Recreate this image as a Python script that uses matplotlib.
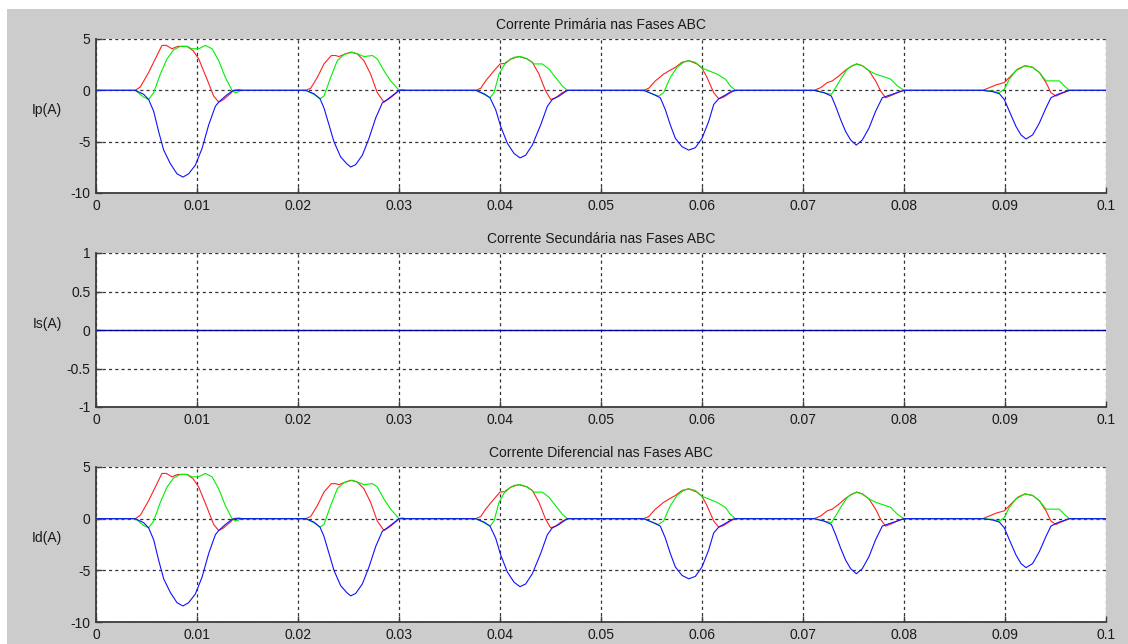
#!/usr/bin/env python3

# Correntes primaria, secundaria e diferencial nas fases ABC.

import matplotlib
matplotlib.use("Agg")
from matplotlib import pyplot as plt
from matplotlib.patches import Rectangle
from matplotlib.ticker import FuncFormatter
import numpy as np

# primary current, phase A (red), one row per pulse
t_a = [0.0,
       0.00389, 0.00439, 0.00521, 0.00587, 0.00653, 0.00696, 0.00752, 0.00809, 0.00901, 0.0096, 0.01017, 0.01099, 0.01165, 0.01215, 0.01264, 0.0133, 0.01363, 0.01413, 0.0145,
       0.02076, 0.02125, 0.02191, 0.02257, 0.0233, 0.02373, 0.02406, 0.02455, 0.02521, 0.02587, 0.02653, 0.02719, 0.02785, 0.02851, 0.02917, 0.02977, 0.03, 0.03033, 0.03066,
       0.03759, 0.03809, 0.03858, 0.03941, 0.04, 0.04056, 0.04106, 0.04188, 0.0427, 0.0432, 0.04386, 0.04452, 0.04502, 0.04551, 0.04617, 0.04667,
       0.05422, 0.05472, 0.05538, 0.0562, 0.05686, 0.05736, 0.05802, 0.05868, 0.0595, 0.06, 0.0605, 0.06116, 0.06165, 0.06215, 0.06281, 0.0633,
       0.07109, 0.07175, 0.07241, 0.0729, 0.07356, 0.07422, 0.07472, 0.07531, 0.07587, 0.07653, 0.07719, 0.07769, 0.07818, 0.07884, 0.0795, 0.08,
       0.08779, 0.08845, 0.08911, 0.08993, 0.09059, 0.09125, 0.09198, 0.09274, 0.0934, 0.09406, 0.09455, 0.09505, 0.09554, 0.09637,
       0.1]
i_a = [0.0,
       0, 0.33, 1.74, 3.06, 4.38, 4.38, 4.05, 4.28, 4.28, 3.88, 3.06, 1.09, -0.56, -1.15, -0.89, -0.33, 0, 0.07, 0,
       0, 0.2, 1.25, 2.57, 3.39, 3.39, 3.29, 3.49, 3.72, 3.55, 2.89, 1.58, -0.23, -1.15, -0.72, -0.23, 0, 0.07, 0,
       0, 0.2, 0.92, 1.91, 2.57, 2.63, 3.06, 3.29, 3.06, 2.73, 1.58, -0.07, -0.89, -0.72, -0.23, 0,
       0, 0.2, 0.92, 1.58, 1.97, 2.24, 2.73, 2.89, 2.57, 2.17, 1.25, -0.23, -0.82, -0.66, -0.23, 0,
       0, 0.26, 0.76, 0.92, 1.41, 1.97, 2.30, 2.57, 2.40, 1.91, 0.92, -0.07, -0.72, -0.46, -0.13, 0,
       0, 0.26, 0.53, 0.76, 1.41, 2.07, 2.40, 2.24, 1.74, 0.76, -0.23, -0.56, -0.33, 0,
       0.0]

# phase B (green)
t_b = [0.0,
       0.00389, 0.00472, 0.00521, 0.00571, 0.00637, 0.00703, 0.00769, 0.00835, 0.00901, 0.0095, 0.01017, 0.01083, 0.01149, 0.01215, 0.01281, 0.01347, 0.0138, 0.01413, 0.0143,
       0.02076, 0.02158, 0.02218, 0.02257, 0.02323, 0.02389, 0.02455, 0.02538, 0.02604, 0.02653, 0.02736, 0.02785, 0.02851, 0.02917, 0.02977, 0.03,
       0.03759, 0.03842, 0.03901, 0.03941, 0.0399, 0.04056, 0.04139, 0.04205, 0.0427, 0.04337, 0.04419, 0.04485, 0.04551, 0.04617, 0.04667,
       0.05422, 0.05505, 0.05571, 0.0562, 0.05686, 0.05752, 0.05818, 0.05868, 0.05934, 0.06, 0.06066, 0.06149, 0.06231, 0.06281, 0.0633,
       0.07109, 0.07208, 0.07281, 0.07323, 0.07373, 0.07439, 0.07488, 0.07531, 0.07587, 0.07653, 0.07719, 0.07802, 0.07868, 0.07934, 0.08,
       0.08779, 0.08878, 0.08944, 0.08993, 0.09043, 0.09109, 0.09198, 0.09274, 0.0934, 0.09406, 0.09538, 0.09587, 0.09637,
       0.1]
i_b = [0.0,
       0, -0.66, -0.89, -0.23, 1.58, 3.06, 3.95, 4.28, 4.28, 4.05, 4.05, 4.38, 4.05, 2.89, 1.25, 0, -0.23, -0.13, 0,
       0, -0.39, -0.82, -0.56, 1.25, 2.89, 3.49, 3.72, 3.49, 3.29, 3.39, 3.06, 1.91, 0.92, 0.26, 0,
       0, -0.39, -0.72, -0.23, 1.58, 2.73, 3.22, 3.29, 3.06, 2.57, 2.57, 2.07, 1.25, 0.43, 0,
       0, -0.33, -0.56, -0.23, 1.25, 2.24, 2.73, 2.89, 2.73, 2.17, 1.91, 1.58, 1.09, 0.43, 0,
       0, -0.23, -0.39, 0.26, 1.09, 2.07, 2.40, 2.57, 2.40, 1.91, 1.58, 1.32, 1.09, 0.43, 0,
       0, -0.07, -0.23, 0.1, 1.09, 1.91, 2.40, 2.24, 1.74, 0.92, 0.92, 0.43, 0,
       0.0]

# phase C (blue)
t_c = [0.0,
       0.00389, 0.00472, 0.00521, 0.00571, 0.0062, 0.0067, 0.00736, 0.00802, 0.00861, 0.00917, 0.00983, 0.0105, 0.01116, 0.01182, 0.01215, 0.01281, 0.01347, 0.0138,
       0.02076, 0.02158, 0.02218, 0.02257, 0.02307, 0.02356, 0.02422, 0.02482, 0.02521, 0.02571, 0.02637, 0.02703, 0.02769, 0.02835, 0.02884, 0.0295, 0.03,
       0.03759, 0.03842, 0.03901, 0.03957, 0.04007, 0.04073, 0.04139, 0.04198, 0.04254, 0.0432, 0.04403, 0.04469, 0.04518, 0.04584, 0.04667,
       0.05422, 0.05505, 0.05587, 0.05637, 0.05686, 0.05736, 0.05802, 0.05868, 0.05934, 0.06, 0.06066, 0.06116, 0.06165, 0.06231, 0.06297, 0.0633,
       0.07109, 0.07208, 0.07281, 0.07323, 0.07373, 0.07422, 0.07472, 0.07528, 0.07587, 0.07653, 0.07719, 0.07785, 0.07851, 0.07934, 0.08,
       0.08779, 0.08878, 0.08944, 0.08993, 0.09043, 0.09109, 0.09158, 0.09208, 0.09274, 0.0934, 0.09406, 0.09455, 0.09521, 0.09637,
       0.1]
i_c = [0.0,
       0, -0.39, -0.89, -2.04, -4.01, -5.82, -7.14, -8.13, -8.45, -8.13, -7.30, -5.66, -3.36, -1.55, -1.15, -0.56, -0.07, 0,
       0, -0.33, -0.82, -1.71, -3.36, -5.0, -6.48, -7.14, -7.47, -7.24, -6.32, -4.67, -2.70, -1.22, -0.89, -0.39, 0,
       0, -0.33, -0.72, -1.88, -3.52, -5.16, -6.15, -6.58, -6.32, -5.33, -3.36, -1.55, -0.89, -0.56, 0,
       0, -0.33, -0.72, -1.88, -3.36, -4.67, -5.49, -5.82, -5.59, -4.67, -3.03, -1.38, -0.82, -0.46, -0.07, 0,
       0, -0.23, -0.56, -1.55, -2.86, -4.01, -4.84, -5.33, -4.84, -3.68, -2.04, -0.72, -0.49, -0.23, 0,
       0, -0.13, -0.33, -0.89, -2.04, -3.52, -4.34, -4.74, -4.34, -3.19, -1.71, -0.72, -0.39, 0,
       0.0]

# secondary current is zero over the whole window
t_s = [0.0, 0.1]
is_a = [0.0, 0.0]
is_b = [0.0, 0.0]
is_c = [0.0, 0.0]

x_ticks = [0, 0.01, 0.02, 0.03, 0.04, 0.05, 0.06, 0.07, 0.08, 0.09, 0.1]
y_ticks_big = [-10, -5, 0, 5]
y_ticks_small = [-1, -0.5, 0, 0.5, 1]

titles = ["Corrente Primária nas Fases ABC",
          "Corrente Secundária nas Fases ABC",
          "Corrente Diferencial nas Fases ABC"]
ylabels = ["Ip(A)", "Is(A)", "Id(A)"]

plt.rcParams["font.family"] = ["Liberation Sans", "DejaVu Sans"]
plt.rcParams["axes.unicode_minus"] = False

fig = plt.figure(figsize=(11.28, 6.44), dpi=100)
fig.patch.set_facecolor("white")
fig.add_artist(Rectangle((7 / 1128, 0), 1, 1 - 9 / 644, transform=fig.transFigure,
                         facecolor="#cccccc", edgecolor="none", zorder=-1))

left = 96 / 1128
width = 1010 / 1128
boxes = [(left, 1 - 193 / 644, width, 154 / 644),
         (left, 1 - 407 / 644, width, 154 / 644),
         (left, 1 - 622 / 644, width, 155 / 644)]

fmt = FuncFormatter(lambda v, p: "%g" % round(v, 4))
lkw = {"lw": 0.8, "solid_joinstyle": "round"}

for k, box in enumerate(boxes):
    ax = fig.add_axes(box)
    if k == 1:
        ax.plot(t_s, is_a, color="#ff0000", **lkw)
        ax.plot(t_s, is_b, color="#00ff00", **lkw)
        ax.plot(t_s, is_c, color="#0000a8", lw=0.9)
        ax.set_ylim(-1, 1)
        ax.set_yticks(y_ticks_small)
    else:
        # secondary is zero, so the differential equals the primary
        ax.plot(t_a, i_a, color="#ff2020", **lkw)
        ax.plot(t_b, i_b, color="#00f000", **lkw)
        ax.plot(t_c, i_c, color="#1010ff", **lkw)
        ax.set_ylim(-10, 5)
        ax.set_yticks(y_ticks_big)
    ax.set_xlim(0, 0.1)
    ax.set_xticks(x_ticks)
    ax.xaxis.set_major_formatter(fmt)
    ax.yaxis.set_major_formatter(fmt)

    ax.grid(True, color="#333333", linestyle=(0, (2.5, 2.5)), linewidth=0.9)
    ax.set_axisbelow(True)
    ax.spines["top"].set_visible(False)
    ax.spines["right"].set_visible(False)
    for s in ("left", "bottom"):
        ax.spines[s].set_color("#3c3c3c")
        ax.spines[s].set_linewidth(1.3)
    ax.tick_params(direction="in", length=4, width=1, color="#3c3c3c",
                   labelsize=10, labelcolor="#1a1a1a", pad=4)
    ax.tick_params(axis="y", pad=4)

    ax.set_title(titles[k], fontsize=10, color="#1a1a1a", pad=7)
    ax.set_ylabel(ylabels[k], fontsize=10, color="#1a1a1a", rotation=0,
                  ha="center", va="center")
    ax.yaxis.set_label_coords(-0.0485, 0.54)

fig.savefig("out.png", dpi=100, facecolor=fig.get_facecolor())
print("Saved out.png")
